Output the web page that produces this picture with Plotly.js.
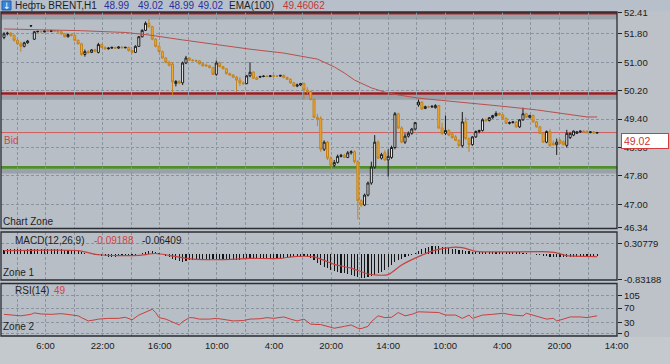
<!DOCTYPE html>
<html><head><meta charset="utf-8">
<script src="https://cdn.plot.ly/plotly-3.0.1.min.js"></script>
<style>html,body{margin:0;padding:0;background:#bcc2c8;}#chart{width:670px;height:364px;}</style>
</head><body><div id="chart"></div>
<script>
// ---------- data ----------
const open = [
51.70,51.80,51.82,51.76,51.62,51.52,51.45,51.55,52.02,51.65,
51.86,51.87,51.86,51.88,51.87,51.89,51.88,51.86,51.80,51.72,
51.78,51.76,51.62,51.52,51.22,51.30,51.28,51.35,51.28,51.50,
51.42,51.38,51.40,51.42,51.40,51.43,51.41,51.42,51.33,51.28,
51.45,51.72,51.90,52.10,52.00,
51.65,51.45,51.30,51.12,51.00,
50.95,50.40,50.46,50.42,50.98,51.12,51.06,51.05,51.04,50.96,
50.92,50.90,50.85,50.66,50.98,50.88,50.82,50.68,50.64,50.58,
50.50,50.42,50.40,50.62,50.72,50.56,50.58,50.60,50.61,50.60,
50.62,50.61,50.61,50.63,50.57,50.52,50.42,50.33,50.36,50.40,
50.22,50.18,49.95,49.45,49.42,48.55,48.75,48.30,48.10,48.18,
48.35,48.38,48.32,48.45,48.48,48.20,
47.10,46.98,47.26,47.60,
48.05,48.75,48.30,48.45,48.25,48.32,48.60,49.55,49.15,48.75,
48.92,49.00,49.12,49.80,49.88,49.70,49.75,49.74,49.72,49.78,
49.15,49.00,49.08,48.98,48.90,48.80,48.65,49.32,48.85,48.68,
48.90,49.05,49.08,49.38,49.36,49.44,49.50,49.56,49.52,49.42,
49.28,49.30,49.32,49.18,49.38,49.55,49.45,49.50,49.32,49.18,
49.00,48.75,49.05,48.72,48.68,48.80,48.76,48.66,48.88,48.95,
49.00,49.04,49.06,49.06,49.02,49.04,49.01];
const high = [
51.85,51.86,51.85,51.78,51.65,51.58,51.58,51.63,52.04,51.88,
51.89,51.89,51.90,51.90,51.91,51.91,51.90,51.88,51.82,51.80,
51.80,51.78,51.64,51.55,51.36,51.34,51.37,51.38,51.55,51.52,
51.45,51.42,51.44,51.44,51.45,51.45,51.44,51.44,51.35,51.48,
51.74,51.93,52.15,52.22,52.03,
51.68,51.48,51.33,51.15,51.04,
51.00,50.50,50.50,51.02,51.18,51.14,51.09,51.08,51.06,50.99,
50.96,50.93,50.87,51.05,51.02,50.90,50.84,50.71,50.67,50.61,
50.58,50.46,50.64,51.00,50.75,50.60,50.62,50.63,50.63,50.64,
50.64,50.63,50.65,50.66,50.60,50.55,50.45,50.40,50.42,50.43,
50.30,50.20,49.98,49.55,49.48,48.80,48.78,48.35,48.25,48.40,
48.42,48.42,48.50,48.52,48.52,48.25,
47.14,47.30,47.64,48.20,
48.95,48.80,48.45,48.52,48.55,48.65,49.60,49.58,49.20,49.00,
49.05,49.15,49.32,49.95,49.90,49.78,49.78,49.79,49.82,49.80,
49.30,49.50,49.12,49.02,48.95,48.83,49.60,49.45,48.88,48.92,
49.08,49.10,49.42,49.42,49.46,49.52,49.62,49.59,49.54,49.45,
49.33,49.34,49.34,49.40,49.72,49.58,49.52,49.53,49.35,49.21,
49.04,49.08,49.12,48.80,48.85,48.84,48.80,49.10,49.02,49.08,
49.06,49.08,49.09,49.08,49.06,49.06,49.04];
const low = [
51.65,51.76,51.72,51.58,51.48,51.30,51.42,51.52,52.01,51.63,
51.84,51.84,51.84,51.85,51.85,51.85,51.84,51.78,51.70,51.70,
51.73,51.60,51.50,51.18,51.16,51.24,51.26,51.28,51.25,51.40,
51.35,51.36,51.38,51.38,51.38,51.39,51.39,51.30,51.25,51.26,
51.43,51.70,51.88,51.98,51.62,
51.42,51.28,51.10,50.97,50.88,
50.08,50.32,50.38,50.36,50.95,51.04,51.02,51.01,50.94,50.88,
50.88,50.83,50.64,50.62,50.86,50.80,50.66,50.62,50.56,50.17,
50.33,50.36,50.38,50.58,50.53,50.50,50.56,50.58,50.58,50.58,
50.59,50.59,50.59,50.55,50.50,50.40,50.31,50.30,50.33,49.95,
50.10,49.93,49.43,49.20,48.48,48.50,48.25,48.05,48.05,48.15,
48.32,48.30,48.30,48.40,48.15,46.58,
46.92,46.95,47.22,47.55,
48.00,48.28,48.26,48.22,47.78,48.28,48.55,49.12,48.72,48.70,
48.88,48.96,49.08,49.75,49.66,49.68,49.71,49.72,49.70,49.12,
48.95,48.95,48.92,48.85,48.78,48.62,48.60,48.82,48.47,48.65,
48.87,49.00,49.05,49.32,49.33,49.41,49.47,49.49,49.40,49.26,
49.25,49.28,49.16,49.15,49.35,49.43,49.42,49.30,49.16,48.98,
48.73,48.72,48.62,48.65,48.39,48.70,48.66,48.60,48.84,48.92,
48.98,49.01,49.02,49.00,49.00,48.99,48.99];
const close = [
51.80,51.82,51.76,51.62,51.52,51.45,51.55,51.60,52.03,51.86,
51.87,51.86,51.88,51.87,51.89,51.88,51.86,51.80,51.72,51.78,
51.76,51.62,51.52,51.22,51.30,51.28,51.35,51.32,51.50,51.42,
51.38,51.40,51.42,51.40,51.43,51.41,51.42,51.33,51.28,51.45,
51.72,51.90,52.10,52.00,51.65,
51.45,51.30,51.12,51.00,50.92,
50.45,50.46,50.42,50.98,51.12,51.06,51.05,51.04,50.96,50.90,
50.90,50.85,50.66,50.98,50.88,50.82,50.68,50.64,50.58,50.50,
50.42,50.40,50.62,50.72,50.55,50.52,50.60,50.61,50.60,50.62,
50.61,50.61,50.63,50.57,50.52,50.42,50.33,50.36,50.40,50.22,
50.18,49.95,49.45,49.40,48.55,48.75,48.30,48.10,48.18,48.35,
48.38,48.32,48.45,48.48,48.20,47.10,
46.98,47.26,47.60,48.05,
48.75,48.30,48.40,48.25,48.35,48.60,49.55,49.15,48.75,48.92,
49.00,49.12,49.30,49.88,49.68,49.75,49.74,49.76,49.78,49.15,
49.00,49.08,48.95,48.88,48.80,48.65,49.32,48.85,48.68,48.90,
49.05,49.08,49.38,49.36,49.44,49.50,49.56,49.52,49.42,49.28,
49.30,49.32,49.18,49.38,49.55,49.45,49.50,49.32,49.18,49.00,
48.75,49.05,48.65,48.68,48.75,48.72,48.68,49.00,49.00,49.06,
49.04,49.06,49.05,49.02,49.04,49.01,49.02];

// EMA(100) read at sample bars
const emaBar = [0,23,36,43,53,63,73,83,93,98,101,104,107,109,113,117,123,129,138,147,158,165,173,176];
const emaVal = [51.94,51.89,51.84,51.77,51.63,51.49,51.37,51.26,51.09,50.87,50.70,50.50,50.36,50.28,50.16,50.08,49.99,49.94,49.85,49.77,49.66,49.57,49.46,49.46];

// MACD histogram (one per bar)
const macdHist = [
0.12,0.13,0.14,0.13,0.14,0.13,0.12,0.13,0.14,0.15,0.15,0.14,0.14,0.15,0.14,0.14,0.13,0.13,0.12,0.12,0.11,0.10,0.08,
0.05,0.02,-0.01,-0.03,-0.05,-0.06,
-0.08,-0.09,-0.10,-0.10,-0.10,-0.09,-0.09,-0.08,-0.08,-0.07,-0.05,-0.02,
0.02,0.06,0.08,0.08,0.06,0.03,-0.02,-0.07,
-0.12,-0.18,-0.22,-0.25,-0.26,-0.24,
-0.22,-0.21,-0.20,-0.19,-0.19,-0.19,-0.20,-0.18,-0.18,-0.18,-0.19,-0.19,-0.20,-0.20,-0.21,-0.20,-0.19,-0.18,-0.18,-0.17,-0.17,-0.16,-0.16,-0.15,-0.15,-0.14,-0.14,-0.14,-0.13,-0.13,
-0.12,-0.11,-0.10,-0.10,-0.09,-0.10,-0.14,
-0.22,-0.30,-0.36,-0.42,-0.48,
-0.52,-0.56,-0.59,-0.62,-0.64,-0.66,-0.68,
-0.72,-0.77,-0.79,-0.78,-0.76,-0.73,
-0.68,-0.64,-0.60,
-0.52,-0.45,-0.36,-0.28,
-0.22,-0.17,-0.12,-0.08,-0.04,0.02,
0.08,0.13,0.17,0.20,0.23,0.25,0.24,0.22,
0.20,0.18,0.15,0.13,0.12,0.11,0.09,0.07,0.05,
0.04,0.04,0.05,0.05,0.06,0.06,0.05,0.05,0.04,0.04,0.04,0.05,0.05,0.04,0.03,0.02,0.00,-0.02,-0.04,-0.06,
-0.08,-0.09,-0.10,-0.11,-0.12,-0.12,-0.11,-0.11,
-0.10,-0.10,-0.10,-0.10,-0.09,-0.09,-0.09,-0.09,-0.09];
// MACD signal line read at sample bars
const sigBar = [0,22,28,34,40,45,49,54,60,67,73,82,86,92,95,98,103,108,111,114,118,123,128,133,136,140,147,160,164,167,176];
const sigVal = [0.09,0.09,-0.04,-0.07,-0.06,0.00,-0.06,-0.155,-0.20,-0.19,-0.16,-0.16,-0.10,-0.11,-0.22,-0.35,-0.47,-0.66,-0.70,-0.68,-0.37,-0.10,0.11,0.20,0.19,0.07,0.05,0.06,0.02,-0.07,-0.10];

// RSI(14) read at sample bars
const rsiBar = [0,2,5,8,9,11,14,17,20,22,23,25,27,28,31,34,36,38,40,42,44,45,46,48,50,52,53,55,56,58,61,63,66,68,71,73,76,78,80,83,85,87,89,91,94,96,98,101,103,105,106,108,109,111,113,115,117,119,121,123,126,129,131,134,136,138,139,142,145,148,151,154,155,158,161,163,164,166,168,171,173,176];
const rsiVal = [53,51,49,53,57,54,53,55,51,49,44,35,38,40,42,42,45,38,51,60,67,58,44,40,33,24,33,44,44,40,40,42,38,35,36,40,41,44,42,46,40,35,40,26,25,20,15,20,24,15,14,20,33,49,44,45,58,49,53,60,58,58,51,51,42,51,42,51,53,56,51,49,56,49,40,42,35,40,46,46,44,49];

const timeLabels = ['6:00','22:00','16:00','10:00','4:00','20:00','14:00','10:00','4:00','20:00','14:00'];
const priceTicks = [46.34,47.00,47.80,48.60,49.40,50.20,51.00,51.80,52.41];
const macdTicks = [0.30779,-0.83188];
const rsiTicks = [0,30,70,105];
const levels = [52.38,50.12,48.04];
const levelColors = ['#9c1c1e','#9c1c1e','#4e8e2b'];
const bid = 49.02;
const quote = ['48.99','49.02','48.99','49.02'];
const emaText = '49.46062';
const macdText = ['-0.09188','-0.06409'];
const rsiText = '49';

// ---------- geometry ----------
const W=670,H=364,ML=1,MR=53,MT=12,MB=28;
const PW=W-ML-MR, PH=H-MT-MB;
const xp = px => (px-ML)/PW;
const yp = py => (H-MB-py)/PH;
const BAR0=4, BARPX=3.37;
const idxAt = px => (px-BAR0)/BARPX;
const idx = close.map((_,i)=>i);

const priceAt = py => 50.20-(py-90.7)/35.5;
const macdAt = py => (253.5-py)/31.0;
const rsiAt = py => (333.7-py)/0.365;
const mainTop=12, mainBot=228.5, macdTop=232, macdBot=280, rsiTop=283.5, rsiBot=336;
const pricePerPx = 1/35.5;

const FONT = 'Liberation Sans, Arial, sans-serif';
const gridPx = []; for (let k=0;k<=21;k++) gridPx.push(17.0+28.55*k);
const xTickVals = gridPx.map(idxAt);
const xTickText = gridPx.map((_,k)=> k%2===1 ? timeLabels[(k-1)/2] : '');
const grid = {showgrid:true, gridcolor:'#8a94a0', griddash:'3px,2px', gridwidth:1, zeroline:false, showline:false, fixedrange:true};
const xRange = [idxAt(ML), idxAt(W-MR)];
const tickFont = {family:FONT, size:9.5, color:'#1b1b1b'};

function xa(anchor, labels){
  return Object.assign({}, grid, {range:xRange, domain:[0,1], anchor:anchor, tickmode:'array',
    tickvals:xTickVals, ticktext:xTickText, showticklabels:labels, ticks: labels?'outside':'', ticklen:1,
    tickcolor:'rgba(0,0,0,0)', tickfont:tickFont, rangeslider:{visible:false}});
}
function ya(anchor, dom, rng, tv, tt){
  return Object.assign({}, grid, {domain:dom, range:rng, anchor:anchor, side:'right', tickmode:'array',
    tickvals:tv, ticktext:tt, ticks:'outside', ticklen:4, tickcolor:'#222', tickwidth:1, tickfont:tickFont});
}

const traces = [
  {type:'candlestick', x:idx, open:open, high:high, low:low, close:close, xaxis:'x', yaxis:'y',
   increasing:{line:{color:'#1c1c1c',width:1}, fillcolor:'#f6f6f6'},
   decreasing:{line:{color:'#c3841f',width:1}, fillcolor:'#f2a833'},
   whiskerwidth:0, hoverinfo:'skip', showlegend:false},
  {type:'scatter', mode:'lines', x:emaBar, y:emaVal, xaxis:'x', yaxis:'y', line:{color:'#b8504c',width:1}, hoverinfo:'skip', showlegend:false},
  {type:'bar', x:idx, y:macdHist, xaxis:'x2', yaxis:'y2', width:0.34, marker:{color:'#141414', line:{width:0}}, hoverinfo:'skip', showlegend:false},
  {type:'scatter', mode:'lines', x:sigBar, y:sigVal, xaxis:'x2', yaxis:'y2', line:{color:'#c8403d',width:1.2,shape:'spline',smoothing:0.6}, hoverinfo:'skip', showlegend:false},
  {type:'scatter', mode:'lines', x:rsiBar, y:rsiVal, xaxis:'x3', yaxis:'y3', line:{color:'#c8403d',width:1}, hoverinfo:'skip', showlegend:false}
];

const shapes = [
  {type:'rect', xref:'paper', yref:'paper', x0:xp(0), x1:xp(W), y0:yp(H), y1:yp(rsiBot+1), fillcolor:'#c4c9ce', line:{width:0}, layer:'below'},
  {type:'rect', xref:'paper', yref:'paper', x0:xp(0), x1:xp(W), y0:yp(11.5), y1:yp(0), fillcolor:'#b7c0ca', line:{width:0}, layer:'below'},
  {type:'rect', xref:'paper', yref:'paper', x0:xp(2), x1:xp(11), y0:yp(10), y1:yp(1), fillcolor:'#3c84d8', line:{color:'#1f5fb0',width:1}, layer:'above'}
];
levels.forEach((lv,k)=>{
  shapes.push({type:'line', xref:'paper', yref:'y', x0:0, x1:1, y0:lv-3.6*pricePerPx, y1:lv-3.6*pricePerPx, line:{color:'rgba(55,60,70,0.22)',width:5}, layer:'between'});
  shapes.push({type:'line', xref:'paper', yref:'y', x0:0, x1:1, y0:lv, y1:lv, line:{color:levelColors[k],width:2.6}, layer:'between'});
});
shapes.push({type:'line', xref:'paper', yref:'y', x0:0, x1:1, y0:bid, y1:bid, line:{color:'#d25b5b',width:1}, layer:'between'});
['y','y2','y3'].forEach(r=>{
  shapes.push({type:'rect', xref:'paper', yref:r+' domain', x0:0, x1:1, y0:0, y1:1, line:{color:'#2a2e34',width:1.3}, fillcolor:'rgba(0,0,0,0)', layer:'above'});
});

function ann(text, pxLeft, pyMid, color, size, anchor){
  return {xref:'paper', yref:'paper', x:xp(pxLeft), y:yp(pyMid), xanchor:anchor||'left', yanchor:'middle',
    text:text, showarrow:false, font:{family:FONT, size:size||10, color:color||'#1e1e1e'}, borderpad:0};
}
const annotations = [
  Object.assign(ann('↓', 6.5, 5.5, '#ffffff', 9, 'center'), {font:{family:'DejaVu Sans', size:9, color:'#ffffff'}}),
  ann('Нефть BRENT,H1', 14, 6, '#1e1e1e', 10),
  ann(quote[0], 103, 6, '#2a2f9e', 10),
  ann(quote[1], 137, 6, '#2a2f9e', 10),
  ann(quote[2], 168, 6, '#2a2f9e', 10),
  ann(quote[3], 197, 6, '#2a2f9e', 10),
  ann('EMA(100)', 228, 6, '#1e1e1e', 10),
  ann(emaText, 282, 6, '#c23636', 10),
  ann('Bid', 3, 140, '#d04545', 10),
  ann('Chart Zone', 2, 221, '#1e1e1e', 10),
  ann('MACD(12,26,9)', 14, 240, '#1e1e1e', 10),
  ann(macdText[0], 93, 240, '#d04545', 10),
  ann(macdText[1], 141, 240, '#1e1e1e', 10),
  ann('Zone 1', 2, 272, '#1e1e1e', 10),
  ann('RSI(14)', 14, 290.5, '#1e1e1e', 10),
  ann(rsiText, 53, 290.5, '#d04545', 10),
  ann('Zone 2', 2, 326, '#1e1e1e', 10),
  {xref:'paper', yref:'y', x:xp(621), y:bid, xanchor:'left', yanchor:'top', text:bid.toFixed(2), showarrow:false,
   bgcolor:'#ffffff', bordercolor:'#cf3d3d', borderwidth:1, borderpad:2, width:42, height:10, align:'left',
   font:{family:FONT, size:10.5, color:'#cc3333'}}
];

const layout = {
  width:W, height:H, margin:{l:ML, r:MR, t:MT, b:MB, pad:0},
  paper_bgcolor:'#bcc2c8', plot_bgcolor:'#b7bec6', showlegend:false,
  font:{family:FONT, size:10, color:'#1e1e1e'},
  xaxis: xa('y', false), xaxis2: xa('y2', false), xaxis3: xa('y3', true),
  yaxis: ya('x', [yp(mainBot), yp(mainTop)], [priceAt(mainBot), priceAt(mainTop)], priceTicks, priceTicks.map(v=>v.toFixed(2))),
  yaxis2: ya('x2', [yp(macdBot), yp(macdTop)], [macdAt(macdBot), macdAt(macdTop)], macdTicks, macdTicks.map(v=>v.toFixed(5))),
  yaxis3: ya('x3', [yp(rsiBot), yp(rsiTop)], [rsiAt(rsiBot), rsiAt(rsiTop)], rsiTicks, rsiTicks.map(String)),
  shapes:shapes, annotations:annotations, bargap:0, boxgap:0.15
};
Plotly.newPlot('chart', traces, layout, {staticPlot:true, displayModeBar:false});
</script></body></html>
